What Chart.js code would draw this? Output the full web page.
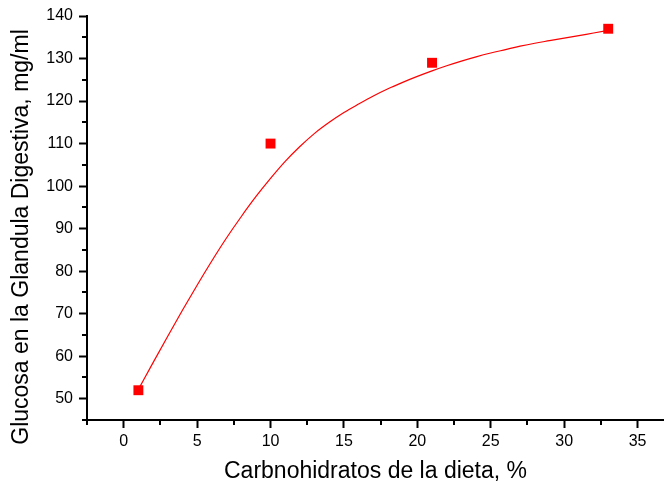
<!DOCTYPE html>
<html>
<head>
<meta charset="utf-8">
<script src="https://cdn.jsdelivr.net/npm/chart.js@4"></script>
<style>
  html, body { margin: 0; padding: 0; background: #fff; }
  #wrap { width: 664px; height: 487px; }
</style>
</head>
<body>
<div id="wrap"><canvas id="chart" width="664" height="487"></canvas></div>
<script>
// measured points
const dietCarbs = [1, 10, 21, 33];
const glucose = [52, 110, 129, 137];

// fitted curve
const fitX = [1, 2, 3, 4, 5, 6, 7, 8, 9, 10, 11, 12, 13, 14, 15, 16, 17,
  18, 19, 20, 21, 22, 23, 24, 25, 26, 27, 28, 29, 30, 31, 32, 33];
const fitY = [52.2, 58.5, 64.7, 70.8, 76.7, 82.4, 87.8, 92.8, 97.5, 101.8,
  105.8, 109.3, 112.4, 115.0, 117.3, 119.3, 121.2, 122.9, 124.4, 125.8,
  127.1, 128.3, 129.4, 130.4, 131.3, 132.1, 132.9, 133.6, 134.2, 134.8,
  135.4, 136.0, 136.6];

const xTicks = [0, 5, 10, 15, 20, 25, 30, 35];
const xMinor = [-2.5, 2.5, 7.5, 12.5, 17.5, 22.5, 27.5, 32.5];
const yTicks = [50, 60, 70, 80, 90, 100, 110, 120, 130, 140];
const yMinor = [45, 55, 65, 75, 85, 95, 105, 115, 125, 135];

const xTitle = 'Carbnohidratos de la dieta, %';
const yTitle = 'Glucosa en la Glandula Digestiva, mg/ml';

const fontFamily = '"Liberation Sans", Arial, sans-serif';

// short minor ticks (Chart.js has none) and the y title, which sits a bit low
const extras = {
  id: 'extras',
  afterDraw(chart) {
    const ctx = chart.ctx;
    const xs = chart.scales.x;
    const ys = chart.scales.y;
    const area = chart.chartArea;
    ctx.save();
    ctx.strokeStyle = '#000';
    ctx.lineWidth = 2;
    ctx.beginPath();
    xMinor.forEach(v => {
      const px = Math.round(xs.getPixelForValue(v));
      ctx.moveTo(px, area.bottom);
      ctx.lineTo(px, area.bottom + 5);
    });
    yMinor.forEach(v => {
      const py = Math.round(ys.getPixelForValue(v));
      ctx.moveTo(area.left, py);
      ctx.lineTo(area.left - 5, py);
    });
    ctx.stroke();

    ctx.translate(22, (area.top + area.bottom) / 2 + 19);
    ctx.rotate(-Math.PI / 2);
    ctx.fillStyle = '#000';
    ctx.font = '23px ' + fontFamily;
    ctx.textAlign = 'center';
    ctx.textBaseline = 'middle';
    ctx.fillText(yTitle, 0, 0);
    ctx.restore();
  }
};

const ctx = document.getElementById('chart').getContext('2d');

new Chart(ctx, {
  type: 'scatter',
  data: {
    datasets: [
      {
        label: 'ajuste',
        type: 'line',
        data: fitX.map((x, i) => ({ x: x, y: fitY[i] })),
        borderColor: '#ff0000',
        borderWidth: 1.2,
        pointRadius: 0,
        cubicInterpolationMode: 'monotone',
        fill: false,
      },
      {
        label: 'datos',
        data: dietCarbs.map((x, i) => ({ x: x, y: glucose[i] })),
        pointStyle: 'rect',
        pointRadius: 7,
        backgroundColor: '#ff0000',
        borderColor: '#ff0000',
        borderWidth: 0,
      },
    ],
  },
  options: {
    responsive: false,
    animation: false,
    layout: { autoPadding: false, padding: { top: 16, right: 0, left: 0, bottom: 0 } },
    plugins: {
      legend: { display: false },
      tooltip: { enabled: false },
    },
    scales: {
      x: {
        type: 'linear',
        min: -2.5,
        max: 36.8,
        afterBuildTicks: axis => { axis.ticks = xTicks.map(v => ({ value: v })); },
        afterFit: scale => {
          scale.height = 67;
          scale.paddingRight = 0;
          scale.paddingLeft = 0;
        },
        grid: { drawOnChartArea: false, drawTicks: true, tickLength: 8, tickWidth: 2, tickColor: '#000' },
        border: { display: true, color: '#000', width: 2 },
        ticks: { color: '#000', font: { family: fontFamily, size: 16 }, padding: 4, maxRotation: 0 },
        title: {
          display: true,
          text: xTitle,
          color: '#000',
          font: { family: fontFamily, size: 23 },
          padding: { top: 0, bottom: 2 },
        },
      },
      y: {
        type: 'linear',
        min: 45,
        max: 140,
        afterBuildTicks: axis => { axis.ticks = yTicks.map(v => ({ value: v })); },
        afterFit: scale => { scale.width = 87; },
        grid: { drawOnChartArea: false, drawTicks: true, tickLength: 8, tickWidth: 2, tickColor: '#000' },
        border: { display: true, color: '#000', width: 2 },
        ticks: { color: '#000', font: { family: fontFamily, size: 16 }, padding: 6 },
        title: { display: false },
      },
    },
  },
  plugins: [extras],
});
</script>
</body>
</html>
